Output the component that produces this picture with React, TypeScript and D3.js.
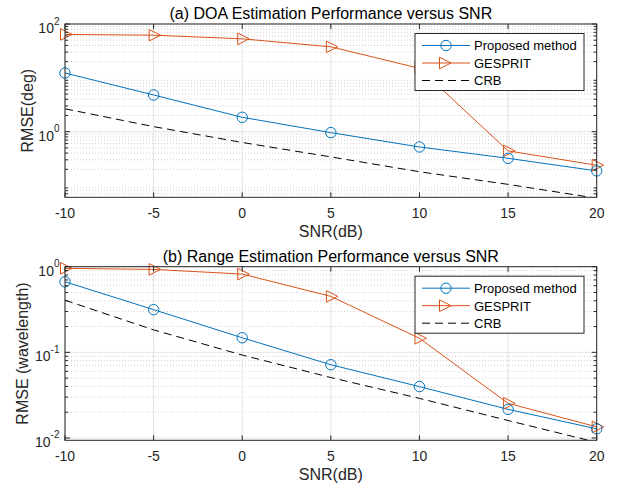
import React from 'react';
import * as d3 from 'd3';

// SNR values in dB
const snr = [-10, -5, 0, 5, 10, 15, 20];
const xTicks = [-10, -5, 0, 5, 10, 15, 20];

// (a) DOA RMSE in degrees
const doaProposed = [12.3, 4.8, 1.85, 0.96, 0.52, 0.32, 0.187];
const doaGesprit = [64, 62, 53, 37.7, 15, 0.44, 0.238];
const doaCrb = [2.66, 1.24, 0.63, 0.34, 0.18, 0.105, 0.058];

// (b) range RMSE in wavelengths
const rangeProposed = [0.667, 0.315, 0.148, 0.0717, 0.0398, 0.0216, 0.0128];
const rangeGesprit = [0.957, 0.93, 0.82, 0.45, 0.146, 0.0254, 0.0135];
const rangeCrb = [0.406, 0.183, 0.093, 0.0508, 0.029, 0.016, 0.0089];

const legendNames = ['Proposed method', 'GESPRIT', 'CRB'];

const BLUE = '#0072BD';
const ORANGE = '#D95319';
const AXIS = '#262626';
const FONT = '"Liberation Sans", Arial, Helvetica, sans-serif';

const left = 65;
const right = 596.7;

// right-pointing triangle marker, centred on its centroid like MATLAB's '>'
const Tri = ({ x, y }) => (
  <path
    d={`M${x - 4.5},${y - 5.8} L${x + 7},${y} L${x - 4.5},${y + 5.8} Z`}
    fill="none"
    stroke={ORANGE}
    strokeWidth={1}
  />
);

function Panel({ id, top, bottom, yDomain, decades, proposed, gesprit, crb, title, ylabel, ylabelX }) {
  const x = d3.scaleLinear().domain([-10, 20]).range([left, right]);
  const y = d3.scaleLog().domain(yDomain).range([bottom, top]);

  const pts = vals => snr.map((s, i) => [x(s), y(vals[i])] as [number, number]);
  const line = d3.line();

  // minor ticks 2..9 in every decade inside the domain
  const minors: number[] = [];
  for (let e = Math.floor(Math.log10(yDomain[0])); e < Math.log10(yDomain[1]); e++) {
    for (let k = 2; k <= 9; k++) {
      const v = k * Math.pow(10, e);
      if (v >= yDomain[0] && v <= yDomain[1]) minors.push(v);
    }
  }

  const lx = 415;
  const ly = top + 9.5;
  const rowY = [12, 29.5, 47];

  return (
    <g>
      <defs>
        <clipPath id={id}>
          <rect x={left} y={top} width={right - left} height={bottom - top} />
        </clipPath>
      </defs>
      <rect x={left} y={top} width={right - left} height={bottom - top} fill="#fff" />
      {/* grids */}
      {minors.map(v => (
        <line key={'mg' + v} x1={left} x2={right} y1={y(v)} y2={y(v)} stroke="#cfcfcf" strokeWidth={1} strokeDasharray="1,2" />
      ))}
      {decades.map(v => (
        <line key={'yg' + v} x1={left} x2={right} y1={y(v)} y2={y(v)} stroke="#e3e3e3" strokeWidth={1} />
      ))}
      {xTicks.map(t => (
        <line key={'xg' + t} x1={x(t)} x2={x(t)} y1={top} y2={bottom} stroke="#e3e3e3" strokeWidth={1} />
      ))}

      {/* series lines */}
      <g clipPath={`url(#${id})`}>
        <path d={line(pts(crb))} fill="none" stroke="#000" strokeWidth={1} strokeDasharray="8,5" />
        <path d={line(pts(gesprit))} fill="none" stroke={ORANGE} strokeWidth={1} />
        <path d={line(pts(proposed))} fill="none" stroke={BLUE} strokeWidth={1} />
      </g>
      {pts(gesprit).map((p, i) => <Tri key={'t' + i} x={p[0]} y={p[1]} />)}
      {pts(proposed).map((p, i) => (
        <circle key={'c' + i} cx={p[0]} cy={p[1]} r={5.2} fill="none" stroke={BLUE} strokeWidth={1} />
      ))}

      {/* box and ticks */}
      <rect x={left} y={top} width={right - left} height={bottom - top} fill="none" stroke={AXIS} strokeWidth={1} />
      {xTicks.map(t => (
        <g key={'xt' + t}>
          <line x1={x(t)} x2={x(t)} y1={bottom} y2={bottom - 5} stroke={AXIS} />
          <line x1={x(t)} x2={x(t)} y1={top} y2={top + 5} stroke={AXIS} />
          <text x={x(t)} y={bottom + 21} textAnchor="middle" fontSize={14} fill={AXIS} fontFamily={FONT}>
            {t}
          </text>
        </g>
      ))}
      {minors.map(v => (
        <g key={'mt' + v}>
          <line x1={left} x2={left + 3} y1={y(v)} y2={y(v)} stroke={AXIS} />
          <line x1={right} x2={right - 3} y1={y(v)} y2={y(v)} stroke={AXIS} />
        </g>
      ))}
      {decades.map(v => (
        <g key={'yt' + v}>
          <line x1={left} x2={left + 5} y1={y(v)} y2={y(v)} stroke={AXIS} />
          <line x1={right} x2={right - 5} y1={y(v)} y2={y(v)} stroke={AXIS} />
          <text x={59.5} y={y(v) + 9} textAnchor="end" fontSize={14} fill={AXIS} fontFamily={FONT}>
            10<tspan dy={-8.5} fontSize={10}>{Math.round(Math.log10(v))}</tspan>
          </text>
        </g>
      ))}

      {/* titles and labels */}
      <text x={(left + right) / 2} y={top - 5} textAnchor="middle" fontSize={16} fill="#000" fontFamily={FONT}>
        {title}
      </text>
      <text x={(left + right) / 2} y={bottom + 39.5} textAnchor="middle" fontSize={16} fill={AXIS} fontFamily={FONT}>
        SNR(dB)
      </text>
      <text
        transform={`translate(${ylabelX},${(top + bottom) / 2}) rotate(-90)`}
        textAnchor="middle"
        fontSize={16}
        fill={AXIS}
        fontFamily={FONT}
      >
        {ylabel}
      </text>

      {/* legend */}
      <rect x={lx} y={ly} width={169} height={57} fill="#fff" stroke={AXIS} strokeWidth={1} />
      <line x1={lx + 7} x2={lx + 55} y1={ly + rowY[0]} y2={ly + rowY[0]} stroke={BLUE} />
      <circle cx={lx + 31} cy={ly + rowY[0]} r={5.2} fill="none" stroke={BLUE} />
      <line x1={lx + 7} x2={lx + 55} y1={ly + rowY[1]} y2={ly + rowY[1]} stroke={ORANGE} />
      <Tri x={lx + 29} y={ly + rowY[1]} />
      <line x1={lx + 7} x2={lx + 55} y1={ly + rowY[2]} y2={ly + rowY[2]} stroke="#000" strokeDasharray="8,5" />
      {legendNames.map((n, i) => (
        <text key={n} x={lx + 59} y={ly + rowY[i] + 4.8} fontSize={13} fill="#000" fontFamily={FONT}>
          {n}
        </text>
      ))}
    </g>
  );
}

export default function App() {
  return (
    <div style={{ position: 'absolute', left: 0, top: 0 }}>
      <svg width={618} height={491} style={{ display: 'block', background: '#fff' }}>
        <rect width={618} height={491} fill="#fff" />
        <Panel
          id="clipA"
          top={24}
          bottom={197.3}
          yDomain={[0.0604, 100]}
          decades={[1, 100]}
          proposed={doaProposed}
          gesprit={doaGesprit}
          crb={doaCrb}
          title="(a) DOA Estimation Performance versus SNR"
          ylabel="RMSE(deg)"
          ylabelX={33}
        />
        <Panel
          id="clipB"
          top={266.7}
          bottom={440.3}
          yDomain={[0.0094, 1]}
          decades={[0.01, 0.1, 1]}
          proposed={rangeProposed}
          gesprit={rangeGesprit}
          crb={rangeCrb}
          title="(b) Range Estimation Performance versus SNR"
          ylabel="RMSE (wavelength)"
          ylabelX={27.5}
        />
      </svg>
    </div>
  );
}
